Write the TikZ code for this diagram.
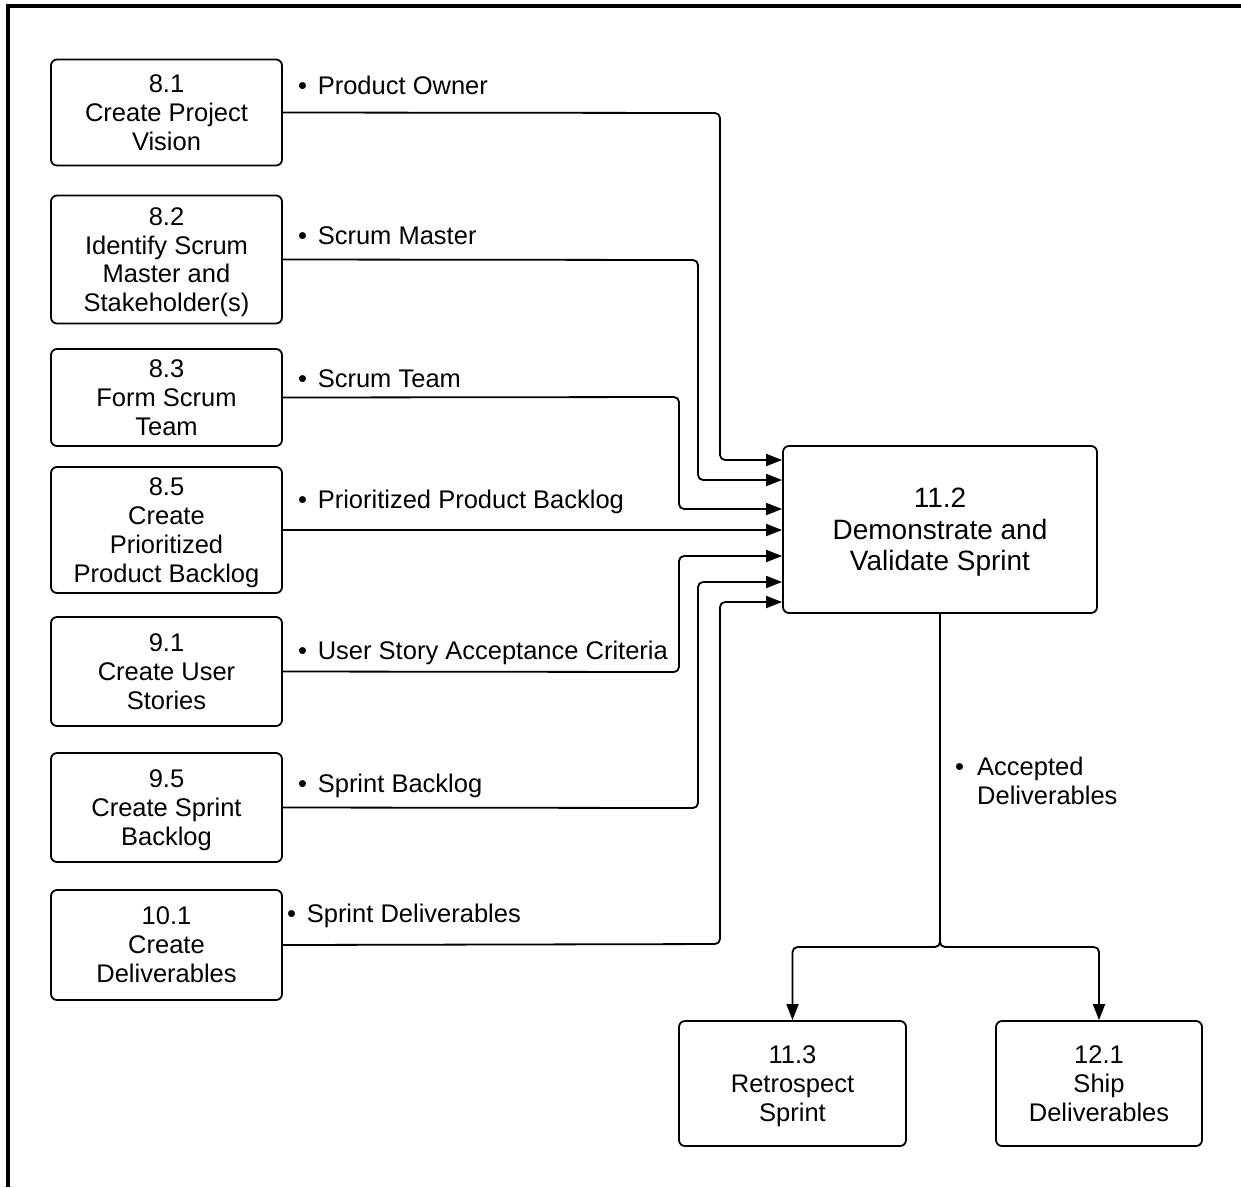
\documentclass[tikz,border=0pt]{standalone}
\usepackage{fontspec}
\setmainfont{Liberation Sans}
\usetikzlibrary{arrows.meta}
\begin{document}
\begin{tikzpicture}[x=1pt,y=-1pt,
  procbox/.style={draw, line width=1.8pt, rounded corners=6pt, inner sep=0pt, align=center,
    font=\fontsize{25.5}{28.8}\selectfont},
  bigbox/.style={procbox, font=\fontsize{28}{31.5}\selectfont},
  lbl/.style={anchor=west, inner sep=0pt, font=\fontsize{25.5}{28.8}\selectfont, text height=0.72em, text depth=0.2em},
  conn/.style={line width=1.8pt, rounded corners=5pt},
  arr/.style={conn, -{Triangle[length=16pt,width=12pt]}}]
\useasboundingbox (0,0) rectangle (1241,1187);
\fill[white] (0,0) rectangle (1241,1187);
% frame
\draw[line width=4pt] (8,1187) -- (8,5.5) -- (1241,5.5);
% left boxes
\node[procbox, minimum width=231pt, minimum height=106pt] (b81) at (166.5,112.5) {8.1\\Create Project\\Vision};
\node[procbox, minimum width=231pt, minimum height=128pt] (b82) at (166.5,259.5) {8.2\\Identify Scrum\\Master and\\\smash{Stakeholder(s)}};
\node[procbox, minimum width=231pt, minimum height=97pt] (b83) at (166.5,397.5) {8.3\\Form Scrum\\Team};
\node[procbox, minimum width=231pt, minimum height=126pt] (b85) at (166.5,530) {8.5\\Create\\Prioritized\\\smash{Product Backlog}};
\node[procbox, minimum width=231pt, minimum height=109pt] (b91) at (166.5,671.5) {9.1\\Create User\\Stories};
\node[procbox, minimum width=231pt, minimum height=109pt] (b95) at (166.5,807.5) {9.5\\Create Sprint\\\smash{Backlog}};
\node[procbox, minimum width=231pt, minimum height=110pt] (b101) at (166.5,945) {10.1\\Create\\Deliverables};
% main box
\node[bigbox, minimum width=314pt, minimum height=167pt] (b112) at (940,529.5) {11.2\\Demonstrate and\\\smash{Validate Sprint}};
% bottom boxes
\node[procbox, minimum width=227pt, minimum height=125pt] (b113) at (792.5,1083.5) {11.3\\Retrospect\\\smash{Sprint}};
\node[procbox, minimum width=206pt, minimum height=125pt] (b121) at (1099,1083.5) {12.1\\Ship\\Deliverables};
% labels
\node[lbl] (l1) at (298,92) {•\hspace{0.42em}Product Owner};
\node[lbl] (l2) at (298,242) {•\hspace{0.42em}Scrum Master};
\node[lbl] (l3) at (298,385) {•\hspace{0.42em}Scrum Team};
\node[lbl] (l4) at (298,506) {•\hspace{0.42em}Prioritized Product Backlog};
\node[lbl] (l5) at (298,657) {•\hspace{0.42em}User Story Acceptance Criteria};
\node[lbl] (l6) at (298,790) {•\hspace{0.42em}Sprint Backlog};
\node[lbl] (l7) at (287,920) {•\hspace{0.42em}Sprint Deliverables};
\node[anchor=north west, inner sep=0pt, align=left, font=\fontsize{25.5}{28.8}\selectfont] (l8) at (955,757)
  {\makebox[22pt][l]{•}Accepted\\\hspace*{22pt}Deliverables};
% connectors into 11.2
\draw[arr] (b81.east) -- (720,113) -- (720,460) -- (b112.west |- 0,460);
\draw[arr] (b82.east) -- (698,260) -- (698,480) -- (b112.west |- 0,480);
\draw[arr] (b83.east) -- (679,397) -- (679,509) -- (b112.west |- 0,509);
\draw[arr] (b85.east) -- (b112.west |- 0,530);
\draw[arr] (b91.east) -- (679,672) -- (679,556) -- (b112.west |- 0,556);
\draw[arr] (b95.east) -- (698,808) -- (698,582) -- (b112.west |- 0,582);
\draw[arr] (b101.east) -- (720,944) -- (720,602) -- (b112.west |- 0,602);
% outputs
\coordinate (split) at (940,947);
\draw[arr] (b112.south) -- (split) -| (b113.north);
\draw[arr] (b112.south) -- (split) -| (b121.north);
\end{tikzpicture}
\end{document}
